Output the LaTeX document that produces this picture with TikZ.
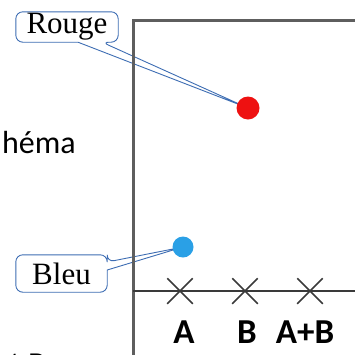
\documentclass[tikz,border=0pt]{standalone}
\usepackage{fontspec}
\setmainfont{Liberation Serif}
\newfontfamily\carlito{Carlito}
\usetikzlibrary{shapes.misc,backgrounds}
\definecolor{calloutblue}{HTML}{3D6DB3}
\definecolor{dotred}{HTML}{EE1111}
\definecolor{dotblue}{HTML}{2AA0E6}
\definecolor{framegray}{HTML}{5E5E5E}
\definecolor{axisgray}{HTML}{3A3A3A}
\tikzset{
  framestyle/.style={draw=framegray,line width=3pt},
  axisstyle/.style={draw=axisgray,line width=2pt},
  crossmark/.style={cross out,draw=axisgray,line width=1.5pt,minimum width=24pt,minimum height=24pt,inner sep=0pt},
  axislabel/.style={font=\carlito\bfseries\fontsize{35}{40}\selectfont,text=black,anchor=base,inner sep=0pt},
  dotstyle/.style={circle,inner sep=0pt},
  calltext/.style={font=\fontsize{31}{36}\selectfont,inner sep=0pt,text=black},
  calloutline/.style={draw=calloutblue,line width=0.9pt,fill=white,line join=round},
  bodytext/.style={font=\carlito\fontsize{32}{38}\selectfont,inner sep=0pt,text=black}
}
\begin{document}
\begin{tikzpicture}[x=1pt,y=-1pt]
\useasboundingbox (0,0) rectangle (355,354);
% frame
\coordinate (fbot) at (133,356);
\coordinate (fcorner) at (133,20);
\coordinate (fright) at (357,20);
\draw[framestyle] (fbot) -- (fcorner) -- (fright);
% axis
\coordinate (axl) at (133,291);
\coordinate (axr) at (357,291);
\draw[axisstyle] (axl) -- (axr);
% crosses
\node[crossmark] (xA) at (180,291) {};
\node[crossmark] (xB) at (245,291) {};
\node[crossmark] (xAB) at (310,291) {};
% labels
\node[axislabel] (lA) at (184,343) {A};
\node[axislabel] (lB) at (247,343) {B};
\node[axislabel] (lAB) at (305,343) {A+B};
% text fragments
\node[bodytext,anchor=base east] (hema) at (76,153) {héma};
\node[bodytext,anchor=base west] (tb) at (10,374) {t B};
% dots
\node[dotstyle,fill=dotred,minimum size=23pt] (red) at (248,108) {};
\node[dotstyle,fill=dotblue,minimum size=21pt] (blue) at (183,247) {};
% callout texts
\node[calltext,minimum width=102pt,minimum height=30pt] (rouge) at (67,27) {Rouge};
\node[calltext,minimum width=91pt,minimum height=37pt] (bleu) at (61.5,273.5) {Bleu};
\begin{pgfonlayer}{background}
\draw[calloutline] ([xshift=11pt]rouge.south) [rounded corners=7pt] -| (rouge.west) |- (rouge.north east) |- ([xshift=35pt]rouge.south) [sharp corners] -- (red.center) -- cycle;
\draw[calloutline] ([yshift=3.5pt]bleu.east) [rounded corners=7pt] |- (bleu.south) -| (bleu.west) |- (bleu.north) -| ([yshift=11.5pt]bleu.east) [sharp corners] -- (blue.center) -- cycle;
\end{pgfonlayer}
\end{tikzpicture}
\end{document}
